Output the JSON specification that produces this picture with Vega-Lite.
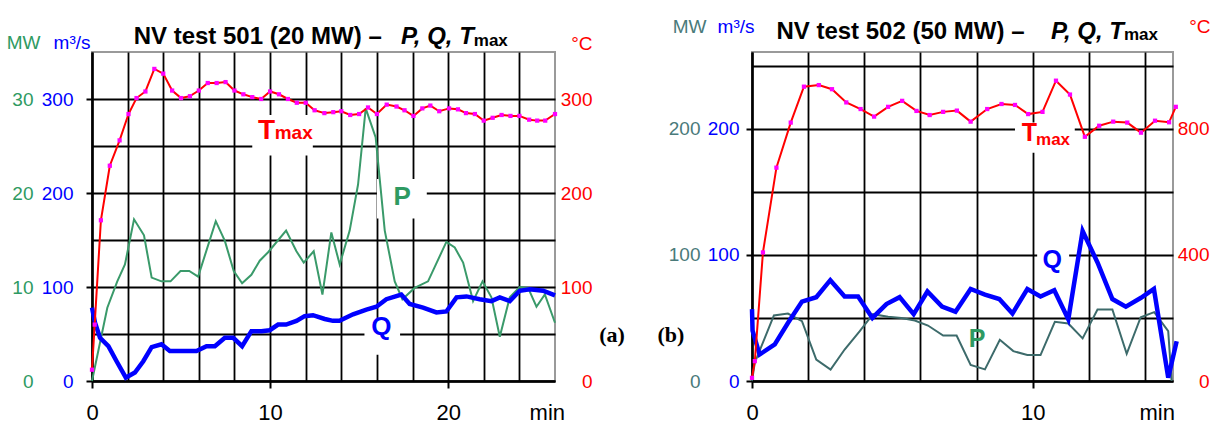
{
"$schema":"https://vega.github.io/schema/vega-lite/v6.json",
"background":"white",
"bounds":"flush",
"spacing":197,
"padding":{"left":5,"top":16,"right":0,"bottom":0},
"config":{"view":{"stroke":"#9a9a9a","strokeWidth":2},"font":"Liberation Sans",
 "axis":{"labelFont":"Liberation Sans","labelFontSize":19,"titleFont":"Liberation Sans","titleFontSize":19,"titleFontWeight":"normal"}},
"hconcat":[
{
"width":463,"height":329,
"resolve":{"scale":{"y":"independent"},"axis":{"x":"independent","y":"independent"}},
"layer":[
 {"resolve":{"axis":{"x":"independent","y":"independent"}},"layer":[
  {"data":{"values":[{}]},"mark":{"type":"rect","color":"white"},"encoding":{"x":{"datum":9.0,"type":"quantitative","scale":{"domain":[0,26],"nice":false,"zero":false},"axis":null},"x2":{"datum":12.4},"y":{"datum":240,"type":"quantitative","scale":{"domain":[0,350],"nice":false,"zero":false},"axis":null},"y2":{"datum":283}}},
  {"data":{"values":[{}]},"mark":{"type":"rect","color":"white"},"encoding":{"x":{"datum":16.0,"type":"quantitative","scale":{"domain":[0,26],"nice":false,"zero":false},"axis":null},"x2":{"datum":18.8},"y":{"datum":173,"type":"quantitative","scale":{"domain":[0,350],"nice":false,"zero":false},"axis":null},"y2":{"datum":215}}},
  {"data":{"values":[{}]},"mark":{"type":"rect","color":"white"},"encoding":{"x":{"datum":15.3,"type":"quantitative","scale":{"domain":[0,26],"nice":false,"zero":false},"axis":null},"x2":{"datum":17.3},"y":{"datum":28,"type":"quantitative","scale":{"domain":[0,350],"nice":false,"zero":false},"axis":null},"y2":{"datum":67}}}
 ]},
 {"data":{"values":[
  {"t":0,"P":0},{"t":0.86,"P":7.8},{"t":1.42,"P":10.6},{"t":1.85,"P":12.4},{"t":2.36,"P":17.2},{"t":2.92,"P":15.5},{"t":3.35,"P":11.0},{"t":3.9,"P":10.6},{"t":4.41,"P":10.6},{"t":4.97,"P":11.7},{"t":5.46,"P":11.7},{"t":5.96,"P":11.1},{"t":6.95,"P":17.0},{"t":7.46,"P":14.9},{"t":7.96,"P":11.7},{"t":8.43,"P":10.4},{"t":8.95,"P":11.3},{"t":9.42,"P":12.8},{"t":9.89,"P":13.7},{"t":10.9,"P":16.0},{"t":11.48,"P":13.8},{"t":11.89,"P":12.6},{"t":12.45,"P":13.8},{"t":12.94,"P":9.2},{"t":13.44,"P":15.8},{"t":13.91,"P":12.4},{"t":14.47,"P":16.0},{"t":14.94,"P":20.9},{"t":15.37,"P":29.0},{"t":15.93,"P":25.9},{"t":16.44,"P":16.0},{"t":17.0,"P":10.6},{"t":17.43,"P":8.7},{"t":18.12,"P":9.9},{"t":18.87,"P":10.6},{"t":19.9,"P":14.8},{"t":20.37,"P":14.2},{"t":20.84,"P":12.6},{"t":21.4,"P":8.5},{"t":21.93,"P":10.6},{"t":22.43,"P":8.9},{"t":22.9,"P":4.7},{"t":23.46,"P":8.9},{"t":24.02,"P":10.0},{"t":24.49,"P":9.9},{"t":24.96,"P":7.9},{"t":25.43,"P":9.2},{"t":26.0,"P":6.2}]},
  "mark":{"type":"line","color":"#3a9a6a","strokeWidth":2},
  "encoding":{"x":{"field":"t","type":"quantitative","scale":{"domain":[0,26],"nice":false,"zero":false},"axis":null},
   "y":{"field":"P","type":"quantitative","scale":{"domain":[0,35],"nice":false,"zero":false},
    "axis":{"orient":"left","values":[0,10,20,30],"grid":false,"domain":false,"ticks":false,"tickSize":0,"labelPadding":59,"labelColor":"#2e9a62","title":"MW","titleColor":"#2e9a62","titleAngle":0,"titleAlign":"right","titleBaseline":"alphabetic","titleX":-52,"titleY":-4}}}},
 {"data":{"values":[
  {"t":0,"Q":78},{"t":0.17,"Q":62},{"t":0.45,"Q":46},{"t":0.92,"Q":37},{"t":1.38,"Q":21},{"t":1.9,"Q":3.5},{"t":2.41,"Q":9},{"t":2.88,"Q":21},{"t":3.35,"Q":36},{"t":3.9,"Q":39},{"t":4.37,"Q":32},{"t":4.93,"Q":32},{"t":5.87,"Q":32},{"t":6.43,"Q":37},{"t":6.9,"Q":37},{"t":7.46,"Q":46},{"t":7.93,"Q":46},{"t":8.43,"Q":37},{"t":8.95,"Q":53},{"t":9.51,"Q":53},{"t":9.98,"Q":54},{"t":10.45,"Q":60},{"t":10.9,"Q":60},{"t":11.48,"Q":64},{"t":11.94,"Q":69},{"t":12.41,"Q":70},{"t":13.07,"Q":66},{"t":13.53,"Q":64},{"t":13.9,"Q":64},{"t":14.66,"Q":71},{"t":15.41,"Q":76},{"t":15.97,"Q":79},{"t":16.53,"Q":87},{"t":17.37,"Q":92},{"t":17.84,"Q":82},{"t":18.59,"Q":78},{"t":19.34,"Q":73},{"t":19.9,"Q":74},{"t":20.47,"Q":89},{"t":21.03,"Q":90},{"t":21.77,"Q":87},{"t":22.43,"Q":85},{"t":22.9,"Q":89},{"t":23.46,"Q":85},{"t":24.02,"Q":96},{"t":24.58,"Q":97.5},{"t":25.33,"Q":96},{"t":26.0,"Q":91}]},
  "mark":{"type":"line","color":"#0000ff","strokeWidth":4.5},
  "encoding":{"x":{"field":"t","type":"quantitative","scale":{"domain":[0,26],"nice":false,"zero":false},
    "axis":{"values":[0,2,4,6,8,10,12,14,16,18,20,22,24,25.54],"grid":true,"gridColor":"#000","gridWidth":1.8,"gridOpacity":{"condition":{"test":"datum.value > 25","value":0},"value":1},"tickSize":7,"tickColor":"#000","tickWidth":2,"tickOpacity":{"condition":{"test":"datum.value % 10 === 0","value":1},"value":0},"labelExpr":"datum.value > 25 ? 'min' : (datum.value % 10 === 0 ? datum.label : '')","labelFont":"Liberation Sans","labelFontSize":22,"labelColor":"#000","labelPadding":14,"labelFlush":false,"labelOverlap":false,"labelBound":false,"domainColor":"#000","domainWidth":2.5,"title":null}},
   "y":{"field":"Q","type":"quantitative","scale":{"domain":[0,350],"nice":false,"zero":false},
    "axis":{"orient":"left","values":[0,50,100,150,200,250,300],"grid":true,"gridColor":"#000","gridWidth":1.8,"labelExpr":"datum.value % 100 === 0 ? datum.label : ''","tickOpacity":{"condition":{"test":"datum.value % 100 === 0","value":1},"value":0},"tickSize":6,"tickColor":"#000","tickWidth":2,"labelColor":"#0000ff","labelPadding":13,"domainColor":"#000","domainWidth":2.5,"title":"m³/s","titleColor":"#0000ff","titleAngle":0,"titleAlign":"right","titleBaseline":"alphabetic","titleX":-2,"titleY":-4}}}},
 {"data":{"values":[
  {"t":0,"T":12},{"t":0.15,"T":60},{"t":0.5,"T":171},{"t":1.0,"T":229},{"t":1.55,"T":256},{"t":2.05,"T":284},{"t":2.5,"T":301},{"t":3.0,"T":308},{"t":3.5,"T":332},{"t":4.0,"T":327},{"t":4.5,"T":309},{"t":5.0,"T":301},{"t":5.5,"T":303},{"t":6.0,"T":309},{"t":6.5,"T":317},{"t":7.0,"T":317},{"t":7.5,"T":318},{"t":8.0,"T":309},{"t":8.5,"T":305},{"t":9.0,"T":302},{"t":9.5,"T":300},{"t":10.0,"T":308},{"t":10.5,"T":305},{"t":11.0,"T":300},{"t":11.5,"T":296},{"t":12.0,"T":296},{"t":12.5,"T":288},{"t":13.05,"T":285},{"t":13.55,"T":286},{"t":14.0,"T":287},{"t":14.5,"T":283},{"t":15.0,"T":284},{"t":15.5,"T":291},{"t":16.0,"T":284},{"t":16.55,"T":294},{"t":17.1,"T":292},{"t":17.55,"T":288},{"t":18.05,"T":282},{"t":18.55,"T":290},{"t":19.0,"T":293},{"t":19.5,"T":287},{"t":20.05,"T":290},{"t":20.55,"T":289},{"t":21.0,"T":285},{"t":21.5,"T":284},{"t":22.0,"T":277},{"t":22.5,"T":280},{"t":23.0,"T":283},{"t":23.5,"T":282},{"t":24.0,"T":282},{"t":24.55,"T":278},{"t":25.0,"T":277},{"t":25.45,"T":277},{"t":26.0,"T":284}]},
  "resolve":{"axis":{"x":"independent","y":"independent"}},
  "layer":[
   {"mark":{"type":"line","color":"#ff0000","strokeWidth":2},
    "encoding":{"x":{"field":"t","type":"quantitative","scale":{"domain":[0,26],"nice":false,"zero":false},"axis":null},
     "y":{"field":"T","type":"quantitative","scale":{"domain":[0,350],"nice":false,"zero":false},
      "axis":{"orient":"right","values":[0,100,200,300],"grid":false,"domain":false,"ticks":false,"tickSize":0,"labelAlign":"right","labelPadding":37,"labelColor":"#ff0000","title":"°C","titleColor":"#ff0000","titleAngle":0,"titleAlign":"right","titleBaseline":"alphabetic","titleX":37,"titleY":-3}}}},
   {"mark":{"type":"point","shape":"square","filled":true,"color":"#ff00ff","size":18,"opacity":1},
    "encoding":{"x":{"field":"t","type":"quantitative","scale":{"domain":[0,26],"nice":false,"zero":false},"axis":null},
     "y":{"field":"T","type":"quantitative","scale":{"domain":[0,350],"nice":false,"zero":false},"axis":null}}}
  ]},
 {"resolve":{"axis":{"x":"independent","y":"independent"}},"layer":[
  {"data":{"values":[{}]},"mark":{"type":"text","text":"NV test 501 (20 MW)  \u2013","font":"Liberation Sans","fontSize":24,"fontWeight":"bold","color":"#000","align":"left","baseline":"alphabetic"},"encoding":{"x":{"datum":2.34,"type":"quantitative","scale":{"domain":[0,26],"nice":false,"zero":false},"axis":null},"y":{"datum":358,"type":"quantitative","scale":{"domain":[0,350],"nice":false,"zero":false},"axis":null}}},
  {"data":{"values":[{}]},"mark":{"type":"text","text":"P, Q, T","font":"Liberation Sans","fontSize":24,"fontWeight":"bold","fontStyle":"italic","color":"#000","align":"right","baseline":"alphabetic"},"encoding":{"x":{"datum":21.44,"type":"quantitative","scale":{"domain":[0,26],"nice":false,"zero":false},"axis":null},"y":{"datum":358,"type":"quantitative","scale":{"domain":[0,350],"nice":false,"zero":false},"axis":null}}},
  {"data":{"values":[{}]},"mark":{"type":"text","text":"max","font":"Liberation Sans","fontSize":17,"fontWeight":"bold","color":"#000","align":"left","baseline":"alphabetic"},"encoding":{"x":{"datum":21.44,"type":"quantitative","scale":{"domain":[0,26],"nice":false,"zero":false},"axis":null},"y":{"datum":356.8,"type":"quantitative","scale":{"domain":[0,350],"nice":false,"zero":false},"axis":null}}},
  {"data":{"values":[{}]},"mark":{"type":"text","text":"T","font":"Liberation Sans","fontSize":28,"fontWeight":"bold","color":"#ff0000","align":"left","baseline":"alphabetic"},"encoding":{"x":{"datum":9.32,"type":"quantitative","scale":{"domain":[0,26],"nice":false,"zero":false},"axis":null},"y":{"datum":257,"type":"quantitative","scale":{"domain":[0,350],"nice":false,"zero":false},"axis":null}}},
  {"data":{"values":[{}]},"mark":{"type":"text","text":"max","font":"Liberation Sans","fontSize":19,"fontWeight":"bold","color":"#ff0000","align":"left","baseline":"alphabetic"},"encoding":{"x":{"datum":10.26,"type":"quantitative","scale":{"domain":[0,26],"nice":false,"zero":false},"axis":null},"y":{"datum":257.5,"type":"quantitative","scale":{"domain":[0,350],"nice":false,"zero":false},"axis":null}}},
  {"data":{"values":[{}]},"mark":{"type":"text","text":"P","font":"Liberation Sans","fontSize":26,"fontWeight":"bold","color":"#2e9a62","align":"center","baseline":"alphabetic"},"encoding":{"x":{"datum":17.42,"type":"quantitative","scale":{"domain":[0,26],"nice":false,"zero":false},"axis":null},"y":{"datum":187,"type":"quantitative","scale":{"domain":[0,350],"nice":false,"zero":false},"axis":null}}},
  {"data":{"values":[{}]},"mark":{"type":"text","text":"Q","font":"Liberation Sans","fontSize":26,"fontWeight":"bold","color":"#0000ff","align":"center","baseline":"alphabetic"},"encoding":{"x":{"datum":16.25,"type":"quantitative","scale":{"domain":[0,26],"nice":false,"zero":false},"axis":null},"y":{"datum":49,"type":"quantitative","scale":{"domain":[0,350],"nice":false,"zero":false},"axis":null}}},
  {"data":{"values":[{}]},"mark":{"type":"text","text":"(a)","font":"Liberation Serif","fontSize":22,"fontWeight":"bold","color":"#000","align":"center","baseline":"middle"},"encoding":{"x":{"datum":29.2,"type":"quantitative","scale":{"domain":[0,26],"nice":false,"zero":false},"axis":null},"y":{"datum":49,"type":"quantitative","scale":{"domain":[0,350],"nice":false,"zero":false},"axis":null}}}
 ]}
]
},
{
"width":421,"height":329,
"resolve":{"scale":{"y":"independent"},"axis":{"x":"independent","y":"independent"}},
"layer":[
 {"resolve":{"axis":{"x":"independent","y":"independent"}},"layer":[
  {"data":{"values":[{}]},"mark":{"type":"rect","color":"white"},"encoding":{"x":{"datum":9.37,"type":"quantitative","scale":{"domain":[0,15],"nice":false,"zero":false},"axis":null},"x2":{"datum":11.5},"y":{"datum":181,"type":"quantitative","scale":{"domain":[0,261],"nice":false,"zero":false},"axis":null},"y2":{"datum":205}}},
  {"data":{"values":[{}]},"mark":{"type":"rect","color":"white"},"encoding":{"x":{"datum":10.16,"type":"quantitative","scale":{"domain":[0,15],"nice":false,"zero":false},"axis":null},"x2":{"datum":11.3},"y":{"datum":81,"type":"quantitative","scale":{"domain":[0,261],"nice":false,"zero":false},"axis":null},"y2":{"datum":108}}}
 ]},
 {"data":{"values":[
  {"t":0,"P":0},{"t":0.1,"P":14.5},{"t":0.78,"P":52},{"t":1.28,"P":53.5},{"t":1.78,"P":47.5},{"t":2.29,"P":17},{"t":2.8,"P":9},{"t":3.3,"P":25},{"t":3.84,"P":39.5},{"t":4.31,"P":53},{"t":4.85,"P":51},{"t":5.32,"P":50},{"t":5.8,"P":48},{"t":6.27,"P":44},{"t":6.81,"P":36},{"t":7.29,"P":36},{"t":7.79,"P":12.7},{"t":8.3,"P":9.2},{"t":8.83,"P":32.7},{"t":9.31,"P":23.7},{"t":9.81,"P":20.6},{"t":10.28,"P":20.6},{"t":10.79,"P":47},{"t":11.27,"P":45.6},{"t":11.78,"P":33.8},{"t":12.31,"P":56.7},{"t":12.84,"P":56.7},{"t":13.35,"P":21.6},{"t":13.85,"P":50.6},{"t":14.33,"P":54.6},{"t":14.83,"P":39.6},{"t":14.95,"P":0}]},
  "mark":{"type":"line","color":"#3d6b6b","strokeWidth":2},
  "encoding":{"x":{"field":"t","type":"quantitative","scale":{"domain":[0,15],"nice":false,"zero":false},"axis":null},
   "y":{"field":"P","type":"quantitative","scale":{"domain":[0,261],"nice":false,"zero":false},
    "axis":{"orient":"left","values":[0,100,200],"grid":false,"domain":false,"ticks":false,"tickSize":0,"labelPadding":52,"labelColor":"#4a7a7a","title":"MW","titleColor":"#4a7a7a","titleAngle":0,"titleAlign":"right","titleBaseline":"alphabetic","titleX":-46,"titleY":-20}}}},
 {"data":{"values":[
  {"t":0,"Q":57},{"t":0.02,"Q":40},{"t":0.27,"Q":21},{"t":0.81,"Q":29},{"t":1.28,"Q":46},{"t":1.78,"Q":63},{"t":2.29,"Q":66.5},{"t":2.79,"Q":80},{"t":3.3,"Q":67},{"t":3.78,"Q":67},{"t":4.29,"Q":50},{"t":4.79,"Q":61},{"t":5.26,"Q":66.5},{"t":5.76,"Q":53},{"t":6.25,"Q":71},{"t":6.77,"Q":59},{"t":7.25,"Q":55},{"t":7.79,"Q":73},{"t":8.3,"Q":68.6},{"t":8.81,"Q":65},{"t":9.28,"Q":53.5},{"t":9.81,"Q":73},{"t":10.28,"Q":67},{"t":10.77,"Q":72},{"t":11.27,"Q":49},{"t":11.78,"Q":119},{"t":12.31,"Q":94},{"t":12.84,"Q":65},{"t":13.32,"Q":59},{"t":13.86,"Q":66},{"t":14.32,"Q":73},{"t":14.83,"Q":2.6},{"t":15.13,"Q":31.6}]},
  "mark":{"type":"line","color":"#0000ff","strokeWidth":4.5},
  "encoding":{"x":{"field":"t","type":"quantitative","scale":{"domain":[0,15],"nice":false,"zero":false},
    "axis":{"values":[0,2,4,6,8,10,12,14,14.42],"grid":true,"gridColor":"#000","gridWidth":1.8,"gridOpacity":{"condition":{"test":"datum.value > 14.1","value":0},"value":1},"tickSize":7,"tickColor":"#000","tickWidth":2,"tickOpacity":{"condition":{"test":"datum.value % 10 === 0","value":1},"value":0},"labelExpr":"datum.value > 14.1 ? 'min' : (datum.value % 10 === 0 ? datum.label : '')","labelFont":"Liberation Sans","labelFontSize":22,"labelColor":"#000","labelPadding":14,"labelFlush":false,"labelOverlap":false,"labelBound":false,"domainColor":"#000","domainWidth":2.5,"title":null}},
   "y":{"field":"Q","type":"quantitative","scale":{"domain":[0,261],"nice":false,"zero":false},
    "axis":{"orient":"left","values":[0,50,100,150,200,250],"grid":true,"gridColor":"#000","gridWidth":1.8,"labelExpr":"datum.value % 100 === 0 ? datum.label : ''","tickOpacity":{"condition":{"test":"datum.value % 100 === 0","value":1},"value":0},"tickSize":6,"tickColor":"#000","tickWidth":2,"labelColor":"#0000ff","labelPadding":7,"domainColor":"#000","domainWidth":2.5,"title":"m³/s","titleColor":"#0000ff","titleAngle":0,"titleAlign":"right","titleBaseline":"alphabetic","titleX":2,"titleY":-20}}}},
 {"data":{"values":[
  {"t":0,"T":10},{"t":0.1,"T":63},{"t":0.39,"T":408},{"t":0.87,"T":677},{"t":1.38,"T":820},{"t":1.85,"T":934},{"t":2.38,"T":939},{"t":2.85,"T":926},{"t":3.36,"T":884},{"t":3.87,"T":863},{"t":4.35,"T":839},{"t":4.85,"T":870},{"t":5.35,"T":889},{"t":5.86,"T":857},{"t":6.33,"T":844},{"t":6.81,"T":854},{"t":7.3,"T":858},{"t":7.79,"T":823},{"t":8.38,"T":863},{"t":8.89,"T":879},{"t":9.37,"T":876},{"t":9.84,"T":847},{"t":10.35,"T":854},{"t":10.83,"T":953},{"t":11.33,"T":909},{"t":11.86,"T":775},{"t":12.37,"T":810},{"t":12.87,"T":823},{"t":13.37,"T":820},{"t":13.86,"T":788},{"t":14.36,"T":826},{"t":14.86,"T":821},{"t":15.1,"T":870}]},
  "resolve":{"axis":{"x":"independent","y":"independent"}},
  "layer":[
   {"mark":{"type":"line","color":"#ff0000","strokeWidth":2},
    "encoding":{"x":{"field":"t","type":"quantitative","scale":{"domain":[0,15],"nice":false,"zero":false},"axis":null},
     "y":{"field":"T","type":"quantitative","scale":{"domain":[0,1044],"nice":false,"zero":false},
      "axis":{"orient":"right","values":[0,400,800],"grid":false,"domain":false,"ticks":false,"tickSize":0,"labelAlign":"right","labelPadding":36,"labelColor":"#ff0000","title":"°C","titleColor":"#ff0000","titleAngle":0,"titleAlign":"right","titleBaseline":"alphabetic","titleX":37,"titleY":-20}}}},
   {"mark":{"type":"point","shape":"square","filled":true,"color":"#ff00ff","size":18,"opacity":1},
    "encoding":{"x":{"field":"t","type":"quantitative","scale":{"domain":[0,15],"nice":false,"zero":false},"axis":null},
     "y":{"field":"T","type":"quantitative","scale":{"domain":[0,1044],"nice":false,"zero":false},"axis":null}}}
  ]},
 {"resolve":{"axis":{"x":"independent","y":"independent"}},"layer":[
  {"data":{"values":[{}]},"mark":{"type":"text","text":"NV test 502 (50 MW)  \u2013","font":"Liberation Sans","fontSize":24,"fontWeight":"bold","color":"#000","align":"left","baseline":"alphabetic"},"encoding":{"x":{"datum":0.87,"type":"quantitative","scale":{"domain":[0,15],"nice":false,"zero":false},"axis":null},"y":{"datum":271.3,"type":"quantitative","scale":{"domain":[0,261],"nice":false,"zero":false},"axis":null}}},
  {"data":{"values":[{}]},"mark":{"type":"text","text":"P, Q, T","font":"Liberation Sans","fontSize":24,"fontWeight":"bold","fontStyle":"italic","color":"#000","align":"right","baseline":"alphabetic"},"encoding":{"x":{"datum":13.25,"type":"quantitative","scale":{"domain":[0,15],"nice":false,"zero":false},"axis":null},"y":{"datum":271.3,"type":"quantitative","scale":{"domain":[0,261],"nice":false,"zero":false},"axis":null}}},
  {"data":{"values":[{}]},"mark":{"type":"text","text":"max","font":"Liberation Sans","fontSize":17,"fontWeight":"bold","color":"#000","align":"left","baseline":"alphabetic"},"encoding":{"x":{"datum":13.25,"type":"quantitative","scale":{"domain":[0,15],"nice":false,"zero":false},"axis":null},"y":{"datum":270.3,"type":"quantitative","scale":{"domain":[0,261],"nice":false,"zero":false},"axis":null}}},
  {"data":{"values":[{}]},"mark":{"type":"text","text":"T","font":"Liberation Sans","fontSize":25,"fontWeight":"bold","color":"#ff0000","align":"left","baseline":"alphabetic"},"encoding":{"x":{"datum":9.61,"type":"quantitative","scale":{"domain":[0,15],"nice":false,"zero":false},"axis":null},"y":{"datum":190,"type":"quantitative","scale":{"domain":[0,261],"nice":false,"zero":false},"axis":null}}},
  {"data":{"values":[{}]},"mark":{"type":"text","text":"max","font":"Liberation Sans","fontSize":17,"fontWeight":"bold","color":"#ff0000","align":"left","baseline":"alphabetic"},"encoding":{"x":{"datum":10.12,"type":"quantitative","scale":{"domain":[0,15],"nice":false,"zero":false},"axis":null},"y":{"datum":187.5,"type":"quantitative","scale":{"domain":[0,261],"nice":false,"zero":false},"axis":null}}},
  {"data":{"values":[{}]},"mark":{"type":"text","text":"Q","font":"Liberation Sans","fontSize":25,"fontWeight":"bold","color":"#0000ff","align":"center","baseline":"alphabetic"},"encoding":{"x":{"datum":10.7,"type":"quantitative","scale":{"domain":[0,15],"nice":false,"zero":false},"axis":null},"y":{"datum":90,"type":"quantitative","scale":{"domain":[0,261],"nice":false,"zero":false},"axis":null}}},
  {"data":{"values":[{}]},"mark":{"type":"text","text":"P","font":"Liberation Sans","fontSize":25,"fontWeight":"bold","color":"#2e9a62","align":"center","baseline":"alphabetic"},"encoding":{"x":{"datum":8.02,"type":"quantitative","scale":{"domain":[0,15],"nice":false,"zero":false},"axis":null},"y":{"datum":27,"type":"quantitative","scale":{"domain":[0,261],"nice":false,"zero":false},"axis":null}}},
  {"data":{"values":[{}]},"mark":{"type":"text","text":"(b)","font":"Liberation Serif","fontSize":22,"fontWeight":"bold","color":"#000","align":"center","baseline":"middle"},"encoding":{"x":{"datum":-2.89,"type":"quantitative","scale":{"domain":[0,15],"nice":false,"zero":false},"axis":null},"y":{"datum":36.4,"type":"quantitative","scale":{"domain":[0,261],"nice":false,"zero":false},"axis":null}}}
 ]}
]
}
]
}
